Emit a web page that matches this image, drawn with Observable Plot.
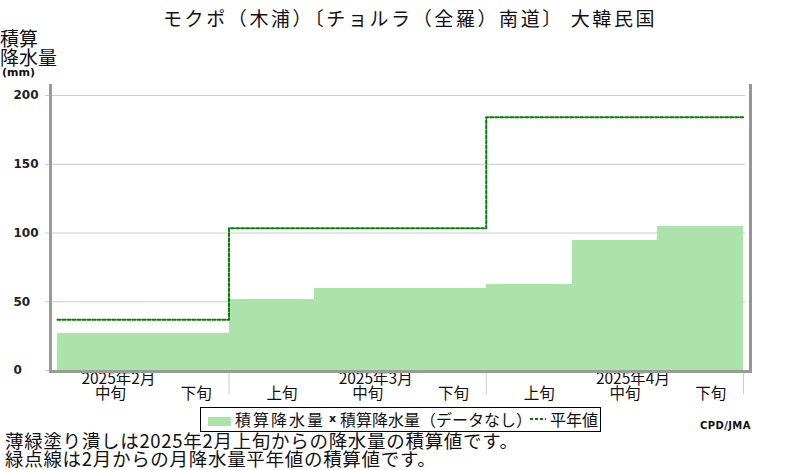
<!DOCTYPE html>
<html>
<head>
<meta charset="utf-8">
<script src="https://cdn.jsdelivr.net/npm/d3@7"></script>
<script src="https://cdn.jsdelivr.net/npm/@observablehq/plot@0.6"></script>
<style>
  html, body { margin: 0; padding: 0; background: #fff; }
  #wrap { position: relative; width: 800px; height: 470px; overflow: hidden; font-family: "Noto Sans CJK JP", sans-serif; color: #111; }
  #wrap svg { position: absolute; left: 0; top: 0; }
  .abs { position: absolute; white-space: nowrap; }
  #title { left: 163px; top: 6px; font-size: 19px; letter-spacing: 2.6px; line-height: 24px; }
  #ylab { left: 0px; top: 28px; font-size: 19px; line-height: 19px; }
  #yunit { left: 2px; top: 67px; font-family: "DejaVu Sans", sans-serif; font-weight: bold; font-size: 11px; line-height: 12px; }
  #legend { left: 200px; top: 407px; width: 401px; height: 25px; box-sizing: border-box; border: 1.5px solid #000; }
  #legend .abs { font-size: 16px; line-height: 22px; top: 0px; }
  #swatch { left: 7px; top: 9px !important; width: 23px; height: 9px; background: #abe3ab; }
  .cap { left: 5px; font-size: 18.5px; line-height: 18px; letter-spacing: 0.7px; }
  #cpd { left: 700px; top: 420px; font-family: "DejaVu Sans", sans-serif; font-weight: bold; font-size: 10px; letter-spacing: 0.4px; }
</style>
</head>
<body>
<div id="wrap">
  <div id="title" class="abs">モクポ（木浦）〔チョルラ（全羅）南道〕 大韓民国</div>
  <div id="ylab" class="abs">積算<br>降水量</div>
  <div id="yunit" class="abs">(mm)</div>
  <div id="legend" class="abs">
    <div id="swatch" class="abs"></div>
    <span class="abs" style="left:34px; letter-spacing:2px;">積算降水量</span>
    <span class="abs" style="left:128px; font-family:'DejaVu Sans',sans-serif; font-weight:bold; font-size:11px;">x</span>
    <span class="abs" style="left:139px;">積算降水量（データなし）</span>
    <svg class="abs" style="left:329px; top:9px;" width="16" height="4"><line x1="0" y1="2" x2="16" y2="2" stroke="#008000" stroke-width="2" stroke-dasharray="3,2"/></svg>
    <span class="abs" style="left:349px;">平年値</span>
  </div>
  <div class="abs cap" style="top:431px;">薄緑塗り潰しは2025年2月上旬からの降水量の積算値です。</div>
  <div class="abs cap" style="top:449px;">緑点線は2月からの月降水量平年値の積算値です。</div>
  <div id="cpd" class="abs">CPD/JMA</div>
</div>
<script>
// ---- data ----
const dekadLabels = ["中旬", "下旬", "上旬", "中旬", "下旬", "上旬", "中旬", "下旬"];
const dekadMonth  = [2, 2, 3, 3, 3, 4, 4, 4];
const precip      = [27, 27, 51.6, 59.6, 59.6, 62.5, 94.5, 104.7];   // 積算降水量 (mm)
const monthNums   = [2, 3, 4];
const monthLabels = ["2025年2月", "2025年3月", "2025年4月"];
const normals     = [37, 103.5, 184.2];                                // 平年値の積算 (mm)
const yTicks      = [0, 50, 100, 150, 200];

// ---- derived tables ----
const bars = dekadLabels.map((label, i) => ({i, label, month: dekadMonth[i], value: precip[i]}));
const normalLine = bars.flatMap(b => {
  const v = normals[monthNums.indexOf(b.month)];
  return [{x: b.i, y: v}, {x: b.i + 1, y: v}];
});
const boundaries = bars.filter((b, k) => k === bars.length - 1 || bars[k + 1].month !== b.month).map(b => b.i + 1);
const monthText = monthNums.map((m, k) => {
  const b = bars.find(d => d.month === m && d.label === "中旬");
  return {x: b.i + 0.5, text: monthLabels[k]};
});

const chart = Plot.plot({
  width: 800,
  height: 470,
  marginLeft: 50,
  marginRight: 50,
  marginTop: 85,
  marginBottom: 99,
  style: {background: "transparent", fontFamily: "'Noto Sans CJK JP', sans-serif"},
  x: {type: "linear", domain: [0, bars.length], range: [57, 743], axis: null},
  y: {domain: [0, 200], range: [370, 95], axis: null},
  marks: [
    Plot.gridY(yTicks, {stroke: "#cccccc", strokeOpacity: 1, insetRight: 5}),
    Plot.rectY(bars, {x1: "i", x2: d => d.i + 1, y: "value", fill: "#abe3ab", shapeRendering: "crispEdges"}),
    Plot.line(normalLine, {x: "x", y: "y", stroke: "#008000", strokeWidth: 2, strokeDasharray: "3,2"}),
    Plot.axisY({ticks: yTicks, tickSize: 5, tickPadding: 32, textAnchor: "start", stroke: "#cccccc",
                fill: "#222", fontSize: 12, fontWeight: "bold", fontFamily: "DejaVu Sans", tickFormat: d => String(d)}),
    Plot.axisX({ticks: boundaries, tickSize: 23, tickFormat: () => "", stroke: "#cccccc", strokeOpacity: 1}),
    Plot.text(bars, {x: d => d.i + 0.5, text: "label", frameAnchor: "bottom", dy: 27, dx: 10, fontSize: 15.5, fill: "#111"}),
    Plot.text(monthText, {x: "x", text: "text", frameAnchor: "bottom", dy: 12, dx: 18, fontSize: 15.5, fill: "#111"}),
    Plot.frame({anchor: "left", stroke: "#9a9a9a", strokeWidth: 3}),
    Plot.frame({anchor: "right", stroke: "#959595", strokeWidth: 3}),
    Plot.frame({anchor: "bottom", stroke: "#9a9a9a", strokeWidth: 3})
  ]
});
document.getElementById("wrap").prepend(chart);
</script>
</body>
</html>
